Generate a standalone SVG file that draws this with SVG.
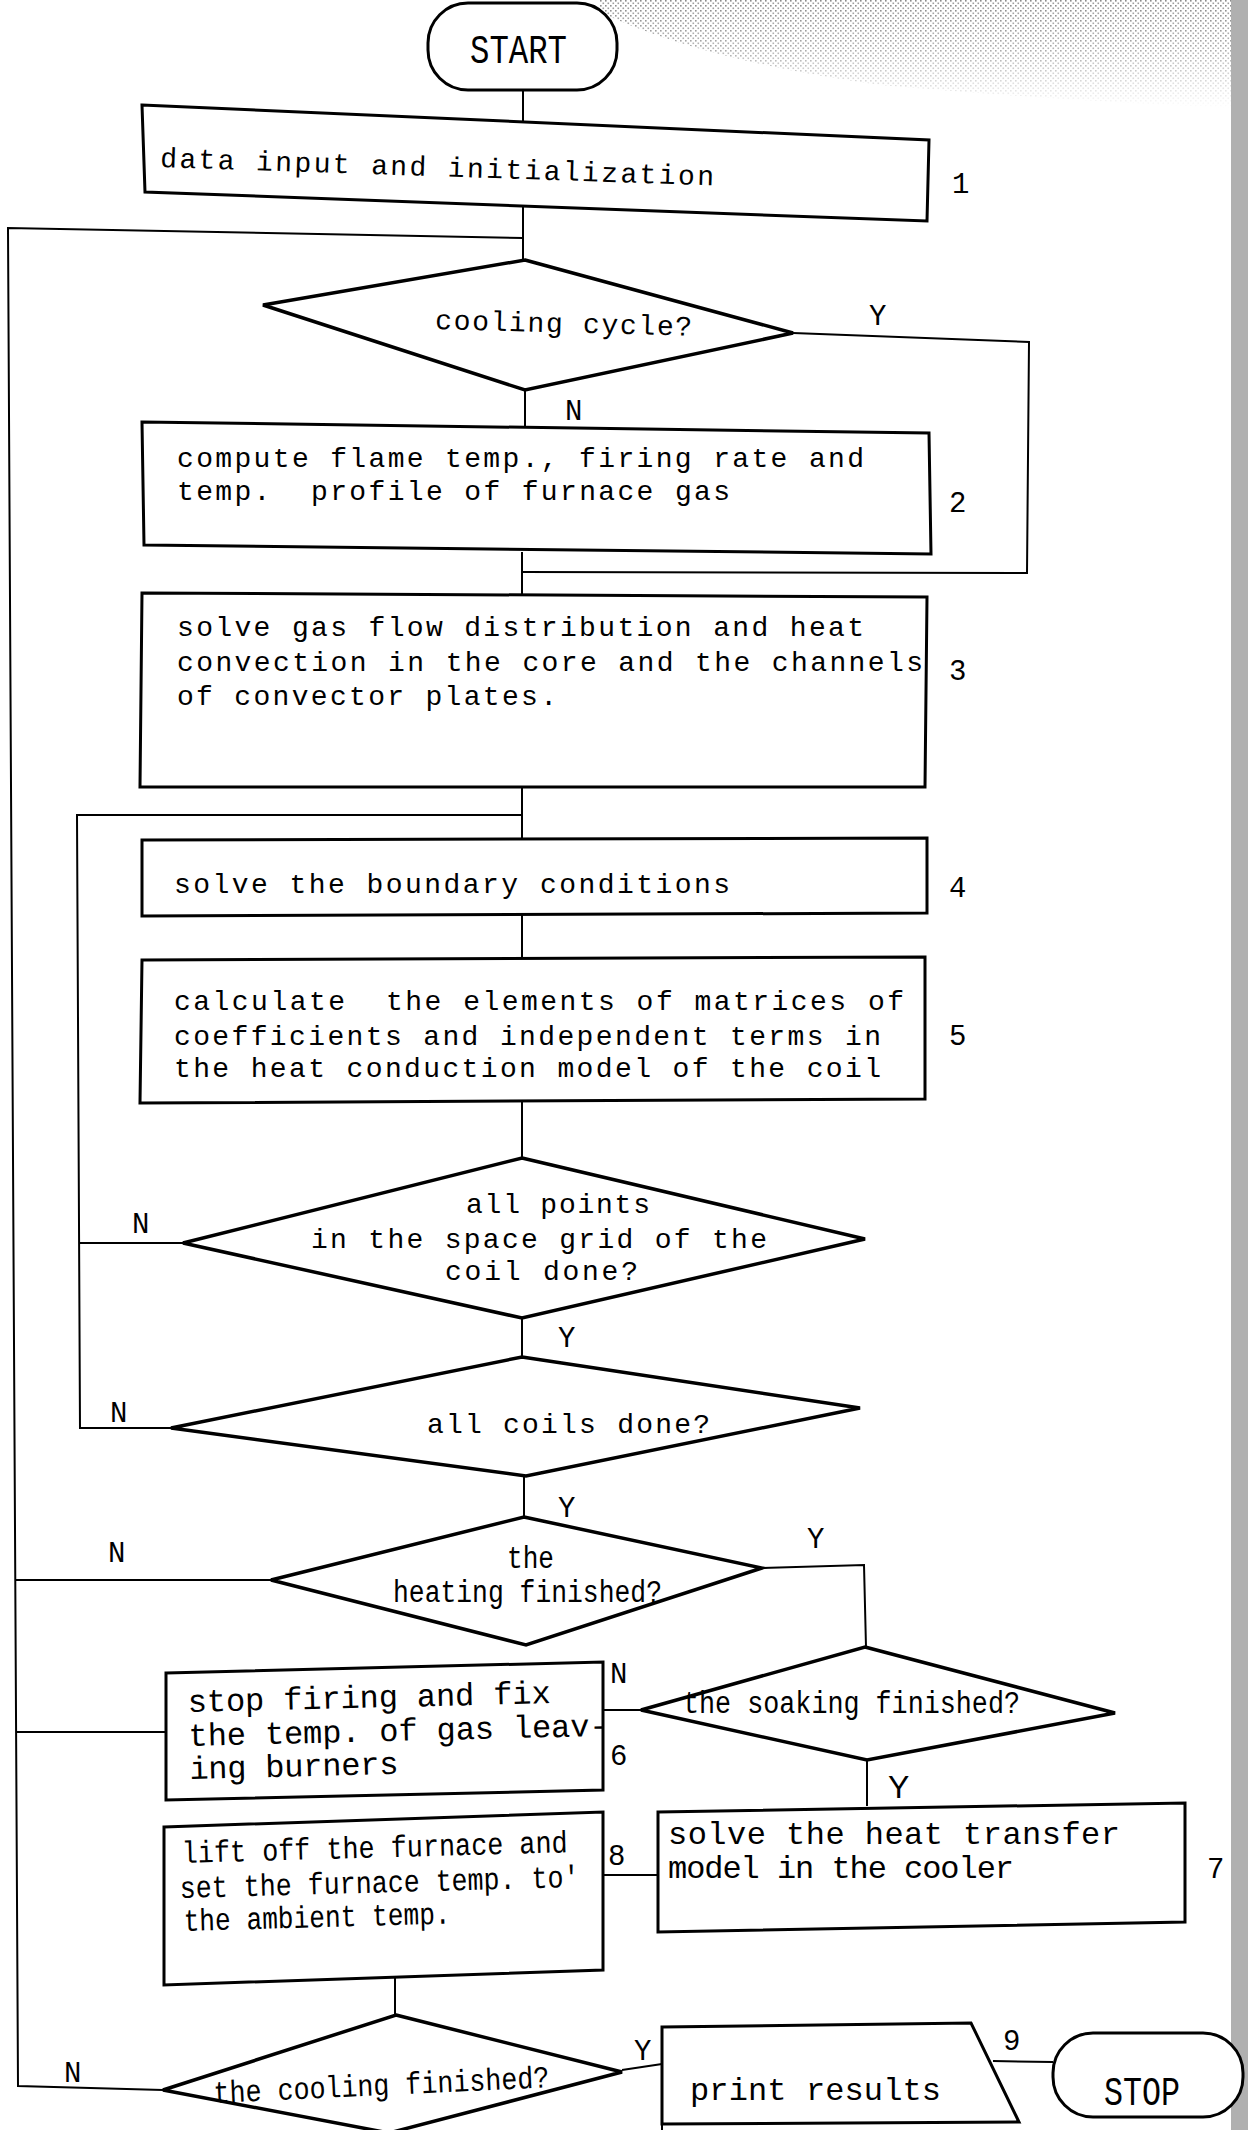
<svg xmlns="http://www.w3.org/2000/svg" width="1248" height="2130" viewBox="0 0 1248 2130">
<defs>
<pattern id="dots" width="5" height="5" patternUnits="userSpaceOnUse">
<rect x="0" y="0" width="1.6" height="1.6" fill="#8a8a8a"/>
<rect x="2.5" y="2.5" width="1.6" height="1.6" fill="#9a9a9a"/>
</pattern>
<linearGradient id="fade" x1="0" y1="0" x2="0" y2="1">
<stop offset="0" stop-color="#fff"/>
<stop offset="0.45" stop-color="#bbb"/>
<stop offset="1" stop-color="#000"/>
</linearGradient>
<mask id="hazeMask">
<path d="M600,0 H1232 V108 Q1050,100 880,85 Q700,60 600,12 Z" fill="url(#fade)"/>
</mask>
<style>
.box{fill:#fff;stroke:#000;stroke-width:3;stroke-linejoin:miter}
.dia{fill:#fff;stroke:#000;stroke-width:3.5;stroke-linejoin:miter}
.ln{fill:none;stroke:#000;stroke-width:2}
.t{font-family:"Liberation Mono","DejaVu Sans Mono",monospace;font-size:28px;fill:#000}
.tb{font-size:32px}
.tc{font-size:31px}
.tl{font-size:40px}
.yn{font-family:"Liberation Mono","DejaVu Sans Mono",monospace;font-size:29px;fill:#000}
.num{font-family:"Liberation Mono","DejaVu Sans Mono",monospace;font-size:29px;fill:#000}
</style>
</defs>
<rect x="0" y="0" width="1248" height="2130" fill="#fff"/>
<rect x="600" y="0" width="632" height="110" fill="url(#dots)" mask="url(#hazeMask)"/>
<rect x="1231" y="0" width="17" height="2130" fill="#b0b0b0"/>

<g id="connectors">
<path class="ln" d="M523,90 V124"/>
<path class="ln" d="M523,206 V260"/>
<path class="ln" d="M523,238 L8,228 L18,2086 L163,2090"/>
<path class="ln" d="M16,1580 H271"/>
<path class="ln" d="M17,1732 H166"/>
<path class="ln" d="M525,390 V427"/>
<path class="ln" d="M793,333 L1029,342 L1027,573 L522,572" stroke-width="2.5"/>
<path class="ln" d="M522,552 V595"/>
<path class="ln" d="M522,787 V840"/>
<path class="ln" d="M522,815 H77 L80,1428 H171"/>
<path class="ln" d="M80,1243 H183"/>
<path class="ln" d="M522,914 V959"/>
<path class="ln" d="M522,1101 V1158"/>
<path class="ln" d="M522,1318 V1357"/>
<path class="ln" d="M524,1476 V1517"/>
<path class="ln" d="M762,1568 L864,1565 L866,1647"/>
<path class="ln" d="M641,1710 H603"/>
<path class="ln" d="M867,1760 V1806"/>
<path class="ln" d="M658,1875 H603"/>
<path class="ln" d="M395,1978 V2015"/>
<path class="ln" d="M622,2070 L662,2064"/>
<path class="ln" d="M993,2061 L1053,2062" stroke-width="3"/>
</g>

<g id="start">
<rect class="box" x="428" y="3" width="189" height="87" rx="40" ry="40"/>
<text class="t tl" x="470" y="63" textLength="97" lengthAdjust="spacingAndGlyphs">START</text>
</g>

<g id="n1">
<polygon class="box" points="142,105 929,140 927,221 145,192"/>
<text class="t" x="160" y="167" textLength="554" lengthAdjust="spacing" transform="rotate(1.9 160 167)">data input and initialization</text>
<text class="num" x="952" y="193">1</text>
</g>

<g id="d1">
<polygon class="dia" points="525,260 793,333 525,390 263,305"/>
<text class="t" x="435" y="329" textLength="257" lengthAdjust="spacing" transform="rotate(1.5 435 329)">cooling cycle?</text>
<text class="yn" x="869" y="325">Y</text>
<text class="yn" x="565" y="420">N</text>
</g>

<g id="n2">
<polygon class="box" points="142,422 929,433 931,554 144,545"/>
<text class="t" x="177" y="467" textLength="687" lengthAdjust="spacing">compute flame temp., firing rate and</text>
<text class="t" x="177" y="500" textLength="553" lengthAdjust="spacing" xml:space="preserve">temp.  profile of furnace gas</text>
<text class="num" x="949" y="512">2</text>
</g>

<g id="n3">
<polygon class="box" points="142,593 927,597 925,787 140,787"/>
<text class="t" x="177" y="636" textLength="687" lengthAdjust="spacing">solve gas flow distribution and heat</text>
<text class="t" x="177" y="671" textLength="746" lengthAdjust="spacing">convection in the core and the channels</text>
<text class="t" x="177" y="705" textLength="380" lengthAdjust="spacing">of convector plates.</text>
<text class="num" x="949" y="680">3</text>
</g>

<g id="n4">
<polygon class="box" points="142,840 927,838 927,913 142,916"/>
<text class="t" x="174" y="893" textLength="556" lengthAdjust="spacing">solve the boundary conditions</text>
<text class="num" x="949" y="897">4</text>
</g>

<g id="n5">
<polygon class="box" points="142,960 925,957 925,1099 140,1103"/>
<text class="t" x="174" y="1010" textLength="730" lengthAdjust="spacing" xml:space="preserve">calculate  the elements of matrices of</text>
<text class="t" x="174" y="1045" textLength="707" lengthAdjust="spacing">coefficients and independent terms in</text>
<text class="t" x="174" y="1077" textLength="707" lengthAdjust="spacing">the heat conduction model of the coil</text>
<text class="num" x="949" y="1045">5</text>
</g>

<g id="d2">
<polygon class="dia" points="522,1158 865,1239 522,1318 183,1243"/>
<text class="t" x="466" y="1213" textLength="184" lengthAdjust="spacing">all points</text>
<text class="t" x="311" y="1248" textLength="456" lengthAdjust="spacing">in the space grid of the</text>
<text class="t" x="445" y="1280" textLength="193" lengthAdjust="spacing">coil done?</text>
<text class="yn" x="132" y="1233">N</text>
<text class="yn" x="558" y="1347">Y</text>
</g>

<g id="d3">
<polygon class="dia" points="522,1357 860,1408 526,1476 171,1428"/>
<text class="t" x="427" y="1433" textLength="283" lengthAdjust="spacing">all coils done?</text>
<text class="yn" x="110" y="1422">N</text>
<text class="yn" x="558" y="1517">Y</text>
</g>

<g id="d4">
<polygon class="dia" points="524,1517 762,1568 526,1645 271,1580"/>
<text class="t tc" x="507" y="1568" textLength="47" lengthAdjust="spacingAndGlyphs">the</text>
<text class="t tc" x="393" y="1602" textLength="269" lengthAdjust="spacingAndGlyphs">heating finished?</text>
<text class="yn" x="108" y="1562">N</text>
<text class="yn" x="807" y="1548">Y</text>
</g>

<g id="d5">
<polygon class="dia" points="865,1647 1115,1713 867,1760 641,1710"/>
<text class="t tc" x="683" y="1713" textLength="337" lengthAdjust="spacingAndGlyphs">the soaking finished?</text>
<text class="yn" x="610" y="1683">N</text>
<text x="888" y="1798" style="font-family:'Liberation Sans',Arial,sans-serif;font-size:32px;fill:#000">Y</text>
</g>

<g id="n6">
<polygon class="box" points="166,1673 603,1662 603,1790 166,1800"/>
<g transform="rotate(-1.4 188 1712)">
<text class="t tb" x="188" y="1712" textLength="363" lengthAdjust="spacing">stop firing and fix</text>
<text class="t tb" x="188" y="1746" textLength="420" lengthAdjust="spacing">the temp. of gas leav-</text>
<text class="t tb" x="188" y="1779" textLength="209" lengthAdjust="spacing">ing burners</text>
</g>
<text class="num" x="610" y="1765">6</text>
</g>

<g id="n7">
<polygon class="box" points="658,1812 1185,1803 1185,1922 658,1932"/>
<text class="t tb" x="668" y="1844" textLength="452" lengthAdjust="spacing">solve the heat transfer</text>
<text class="t tb" x="668" y="1878" textLength="346" lengthAdjust="spacing">model in the cooler</text>
<text class="num" x="1207" y="1878">7</text>
</g>

<g id="n8">
<polygon class="box" points="164,1827 603,1812 603,1970 164,1985"/>
<g transform="rotate(-1.6 182 1863)">
<text class="t tc" x="182" y="1863" textLength="386" lengthAdjust="spacingAndGlyphs">lift off the furnace and</text>
<text class="t tc" x="179" y="1898" textLength="400" lengthAdjust="spacingAndGlyphs">set the furnace temp. to'</text>
<text class="t tc" x="182" y="1931" textLength="267" lengthAdjust="spacingAndGlyphs">the ambient temp.</text>
</g>
<text class="num" x="608" y="1865">8</text>
</g>

<g id="d6">
<polygon class="dia" points="396,2015 622,2072 389,2133 163,2090"/>
<text class="t tc" x="214" y="2103" textLength="336" lengthAdjust="spacingAndGlyphs" transform="rotate(-2.7 214 2103)">the cooling finished?</text>
<text class="yn" x="64" y="2082">N</text>
<text class="yn" x="634" y="2060">Y</text>
</g>

<g id="n9">
<polygon class="box" points="662,2027 971,2023 1019,2122 662,2124"/>
<path class="ln" d="M662,2124 V2130" stroke-width="3"/>
<text class="t tb" x="690" y="2100" textLength="251" lengthAdjust="spacing">print results</text>
<text class="num" x="1003" y="2050">9</text>
</g>

<g id="stop">
<rect class="box" x="1053" y="2033" width="190" height="84" rx="40" ry="40"/>
<text class="t tl" x="1104" y="2105" textLength="76" lengthAdjust="spacingAndGlyphs">STOP</text>
</g>
</svg>
